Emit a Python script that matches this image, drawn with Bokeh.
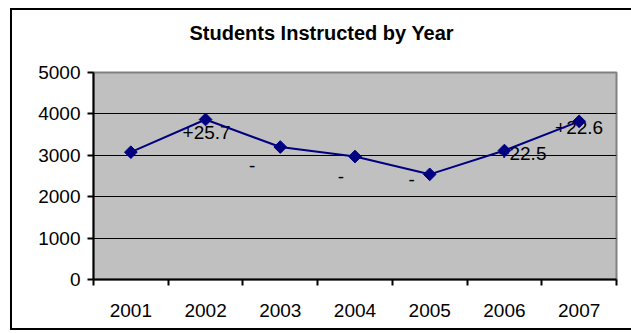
import numpy as np
from bokeh.plotting import figure
from bokeh.models import ColumnDataSource, FixedTicker, Range1d, InlineStyleSheet
from bokeh.core.properties import value
from bokeh.embed import file_html
from bokeh.resources import INLINE

# Yearly student counts and the percentage change shown beside each point
years = ["2001", "2002", "2003", "2004", "2005", "2006", "2007"]
students = [3075, 3865, 3200, 2970, 2540, 3115, 3820]
change_labels = ["", "+25.7", "-", "-", "-", "+22.5", "+22.6"]
y_ticks = [0, 1000, 2000, 3000, 4000, 5000]
chart_title = "Students Instructed by Year"

# pixel nudges for the change labels
label_dx = [0, 1, -28, -14, -18, 18, 0]
label_dy = [0, 13, 18, 20, 5, 3, 6]

FONT = "Liberation Sans"
NAVY = "#000080"
FS = "19px"

xs = list(range(1, len(years) + 1))

p = figure(
    width=631, height=333,
    output_backend="svg", toolbar_location=None,
    x_range=Range1d(0.5, len(years) + 0.5),
    y_range=Range1d(y_ticks[0], y_ticks[-1]),
    min_border_left=93, min_border_right=15,
    min_border_top=72, min_border_bottom=54,
)

p.background_fill_color = "#C0C0C0"
p.border_fill_color = "white"
p.outline_line_color = "#808080"
p.outline_line_width = 2

# outer chart border, drawn as an overlay on the plot element
p.stylesheets = [InlineStyleSheet(css="""
:host { position: relative; }
:host::after {
  content: "";
  position: absolute;
  left: 10px; top: 8px;
  width: 700px; height: 322px;
  border: 2px solid black;
  pointer-events: none;
  box-sizing: border-box;
}
""")]

# title; the empty second line lifts it higher above the plot area
p.title.text = chart_title + "\n"
p.title.text_font = FONT
p.title.text_font_size = "20px"
p.title.text_font_style = "bold"
p.title.text_color = "black"
p.title.align = "left"
p.title.vertical_align = "top"
p.title.offset = 96
p.title.standoff = 10

# grid
p.xgrid.visible = False
p.ygrid.ticker = FixedTicker(ticks=y_ticks)
p.ygrid.grid_line_color = "black"
p.ygrid.grid_line_width = 1

# x axis: labels at category centres, tick marks at category boundaries
xa = p.xaxis[0]
xa.ticker = FixedTicker(ticks=xs, minor_ticks=[x - 0.5 for x in xs] + [xs[-1] + 0.5])
xa.major_label_overrides = {x: yr for x, yr in zip(xs, years)}
xa.major_tick_out = 0
xa.major_tick_in = 0
xa.minor_tick_out = 6
xa.minor_tick_in = 0
xa.minor_tick_line_color = "black"
xa.minor_tick_line_width = 2
xa.axis_line_color = "black"
xa.axis_line_width = 2
xa.major_label_standoff = 18
xa.major_label_text_font = FONT
xa.major_label_text_font_size = FS
xa.major_label_text_color = "black"

ya = p.yaxis[0]
ya.ticker = FixedTicker(ticks=y_ticks)
ya.major_tick_out = 6
ya.major_tick_in = 0
ya.major_tick_line_color = "black"
ya.major_tick_line_width = 2
ya.minor_tick_line_color = None
ya.axis_line_color = "black"
ya.axis_line_width = 2
ya.major_label_standoff = 7
ya.major_label_text_font = FONT
ya.major_label_text_font_size = FS
ya.major_label_text_color = "black"

src = ColumnDataSource(dict(x=xs, y=students, label=change_labels, dx=label_dx, dy=label_dy))

p.text(x="x", y="y", text="label", x_offset="dx", y_offset="dy", source=src,
       text_font=value(FONT), text_font_size=FS, text_color="black",
       text_align="center", text_baseline="middle")

p.line(x="x", y="y", source=src, line_color=NAVY, line_width=2)
p.scatter(x="x", y="y", source=src, marker="square", angle=np.pi / 4, size=9,
          fill_color=NAVY, line_color=NAVY)

open("out.html", "w").write(file_html(p, INLINE))
